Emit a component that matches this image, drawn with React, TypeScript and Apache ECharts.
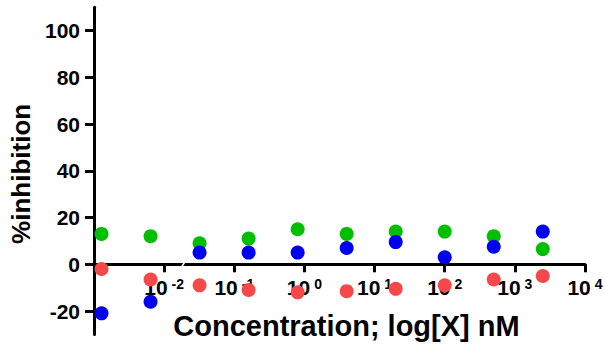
import React, { useEffect, useRef } from "react";
import * as echarts from "echarts";

const concentrations = [0.00128, 0.0064, 0.032, 0.16, 0.8, 4, 20, 100, 500, 2500];
const greenValues = [13, 12, 9, 11, 15, 13, 14, 14, 12, 6.5];
const blueValues = [-21, -16, 5, 5, 5, 7, 9.5, 3, 7.5, 14];
const redValues = [-2, -6.5, -9, -11, -12, -11.5, -10.5, -9, -6.5, -5];
const yTickValues = [-20, 0, 20, 40, 60, 80, 100];

const FONT = "'Liberation Sans', Arial, sans-serif";

const pairs = (vals: number[]) => concentrations.map((c, i) => [c, vals[i]]);

export default function App() {
  const ref = useRef<HTMLDivElement>(null);
  useEffect(() => {
    if (!ref.current) return;
    const chart = echarts.init(ref.current, undefined, { renderer: "svg" });
    chart.setOption({
      animation: false,
      backgroundColor: "#fff",
      grid: { left: 94, right: 20, top: 7.3, bottom: 11.6, containLabel: false, outerBoundsMode: "none" },
      xAxis: {
        type: "log",
        logBase: 10,
        min: 0.001,
        max: 10000,
        offset: -70.1,
        name: "Concentration; log[X] nM",
        nameLocation: "middle",
        nameGap: 47,
        nameTextStyle: { fontFamily: FONT, fontWeight: "bold", fontSize: 29, color: "#000", padding: [0, 0, 0, 14] },
        axisLine: { show: true, onZero: false, lineStyle: { color: "#000", width: 3 } },
        axisTick: { show: true, length: 8, lineStyle: { color: "#000", width: 3 } },
        splitLine: { show: false },
        minorTick: { show: false },
        axisLabel: {
          margin: 13,
          color: "#000",
          fontFamily: FONT,
          formatter: (v: number) => {
            const e = Math.round(Math.log10(v));
            if (e <= -3) return "";
            return `{b|10}{s|${e}}`;
          },
          rich: {
            b: { fontFamily: FONT, fontWeight: "bold", fontSize: 21, lineHeight: 21, color: "#000" },
            s: { fontFamily: FONT, fontWeight: "bold", fontSize: 14, lineHeight: 14, verticalAlign: "top", color: "#000", padding: [0, 0, 0, 4] },
          },
        },
      },
      yAxis: {
        type: "value",
        min: -30,
        max: 110,
        name: "%inhibition",
        nameLocation: "middle",
        nameGap: 60,
        nameRotate: 90,
        nameTextStyle: { fontFamily: FONT, fontWeight: "bold", fontSize: 26, color: "#000", padding: [0, 6, 0, 0] },
        axisLine: { show: true, onZero: false, lineStyle: { color: "#000", width: 3 } },
        axisTick: { show: true, length: 9, customValues: yTickValues, lineStyle: { color: "#000", width: 3 } },
        splitLine: { show: false },
        axisLabel: {
          customValues: yTickValues,
          margin: 14,
          color: "#000",
          fontFamily: FONT,
          fontWeight: "bold",
          fontSize: 21,
        },
      },
      series: [
        { name: "green", type: "scatter", data: pairs(greenValues), symbolSize: 14, itemStyle: { color: "#00bf00", opacity: 1 } },
        { name: "blue", type: "scatter", data: pairs(blueValues), symbolSize: 14, itemStyle: { color: "#0000f0", opacity: 1 } },
        { name: "red", type: "scatter", data: pairs(redValues), symbolSize: 14, itemStyle: { color: "#f54848", opacity: 1 } },
      ],
      graphic: [
        {
          type: "line",
          shape: { x1: 181.5, y1: 267, x2: 185.5, y2: 261 },
          style: { stroke: "#fff", lineWidth: 1.5 },
          z: 100,
        },
      ],
    });
    return () => chart.dispose();
  }, []);
  return (
    <div
      ref={ref}
      style={{ position: "fixed", left: 0, top: 0, width: 605, height: 346 }}
    />
  );
}
